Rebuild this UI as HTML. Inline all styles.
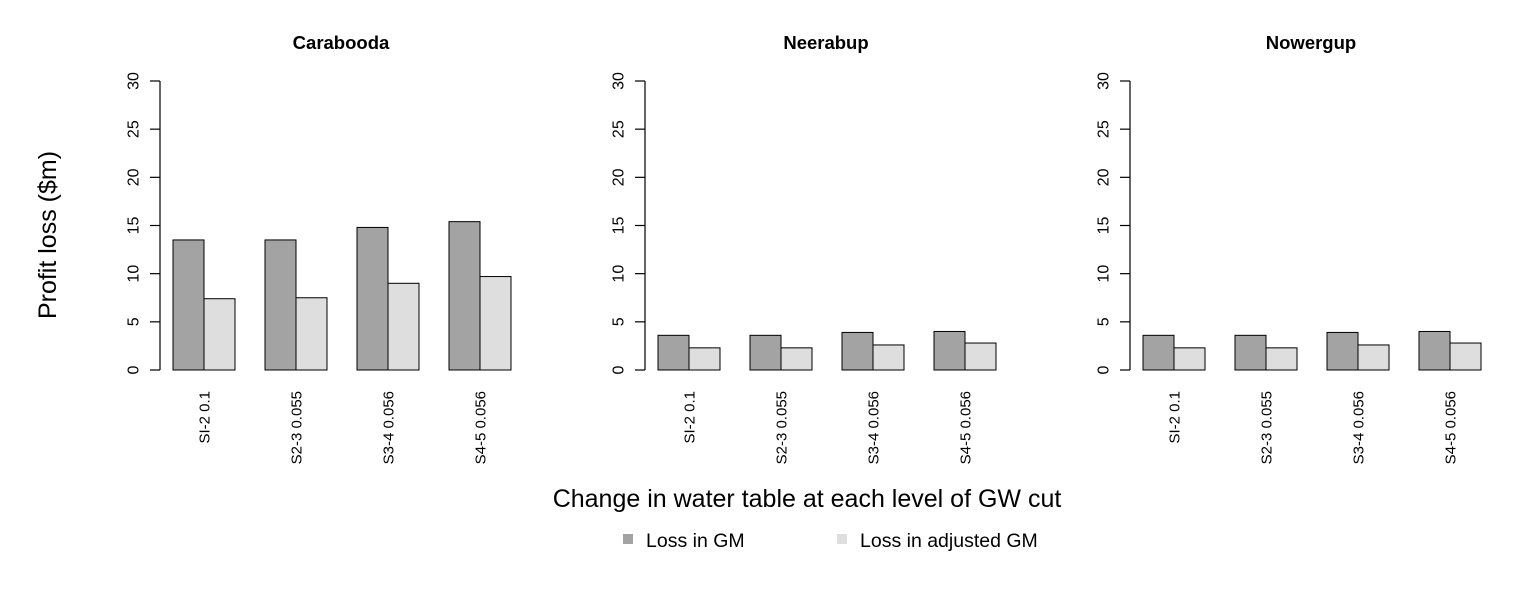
<!DOCTYPE html>
<html><head><meta charset="utf-8"><style>
body{margin:0;background:#fff;}
svg{display:block;font-family:"Liberation Sans",Arial,sans-serif;}
</style></head><body>
<svg id="c" width="1535" height="590"></svg>
<script>
const panels = ["Carabooda","Neerabup","Nowergup"];
const categories = ["SI-2 0.1","S2-3 0.055","S3-4 0.056","S4-5 0.056"];
const lossGM = [[13.5,13.5,14.8,15.4],[3.6,3.6,3.9,4.0],[3.6,3.6,3.9,4.0]];
const lossAdj = [[7.4,7.5,9.0,9.7],[2.3,2.3,2.6,2.8],[2.3,2.3,2.6,2.8]];
const yTicks = [0,5,10,15,20,25,30];
const seriesNames = ["Loss in GM","Loss in adjusted GM"];

const NS="http://www.w3.org/2000/svg";
const svg=document.getElementById('c');
function mk(tag,attrs,parent){const e=document.createElementNS(NS,tag);for(const k in attrs)e.setAttribute(k,attrs[k]);(parent||svg).appendChild(e);return e;}
const y0=370,y30=81;
function yS(v){return y0-(v/30)*(y0-y30);}
const axisX=[160,645,1130];
const bw=31, gap=92;
panels.forEach((p,pi)=>{
  const g=mk('g',{});
  
  
  const ax=axisX[pi];
  const t=mk('text',{x:ax+181,y:49,'text-anchor':'middle','font-size':18.5,'font-weight':'bold'},g);
  t.textContent=p;
  
  
  const al=mk('line',{x1:ax,x2:ax,y1:yS(0),y2:yS(30),stroke:'#000','stroke-width':1.2},g);
  
  
  yTicks.forEach(v=>{
    mk('line',{x1:ax-10,x2:ax,y1:yS(v),y2:yS(v),stroke:'#000','stroke-width':1.2},g);
    const tl=mk('text',{x:ax-26,y:yS(v),'text-anchor':'middle','font-size':16,transform:`rotate(-90 ${ax-26} ${yS(v)})`,'dominant-baseline':'central'},g);
    tl.textContent=v;
    
    
  });
  categories.forEach((c,ci)=>{
    const x=ax+13+ci*gap;
    const b1=mk('rect',{x:x,y:yS(lossGM[pi][ci]),width:bw,height:yS(0)-yS(lossGM[pi][ci]),fill:'#a3a3a3',stroke:'#000','stroke-width':1},g);
    
    
    const b2=mk('rect',{x:x+bw,y:yS(lossAdj[pi][ci]),width:bw,height:yS(0)-yS(lossAdj[pi][ci]),fill:'#dedede',stroke:'#000','stroke-width':1},g);
    
    
    const cx=x+bw+1, ty=391;
    const ct=mk('text',{x:cx,y:ty,'text-anchor':'end','font-size':15,'dominant-baseline':'central',transform:`rotate(-90 ${cx} ${ty})`},g);
    ct.textContent=c;
    
    
  });
});
const yl=mk('text',{x:48,y:235,'text-anchor':'middle','font-size':25,transform:'rotate(-90 48 235)','dominant-baseline':'central'});
yl.textContent="Profit loss ($m)";


const xl=mk('text',{x:807,y:507,'text-anchor':'middle','font-size':25});
xl.textContent="Change in water table at each level of GW cut";


const legX=[623,837], legC=['#a3a3a3','#dedede'];
seriesNames.forEach((n,i)=>{
  const g=mk('g',{});
  
  
  mk('rect',{x:legX[i],y:534,width:10,height:10,fill:legC[i]},g);
  const t=mk('text',{x:legX[i]+23,y:547,'font-size':19.5},g);
  t.textContent=n;
});
</script>
</body></html>
